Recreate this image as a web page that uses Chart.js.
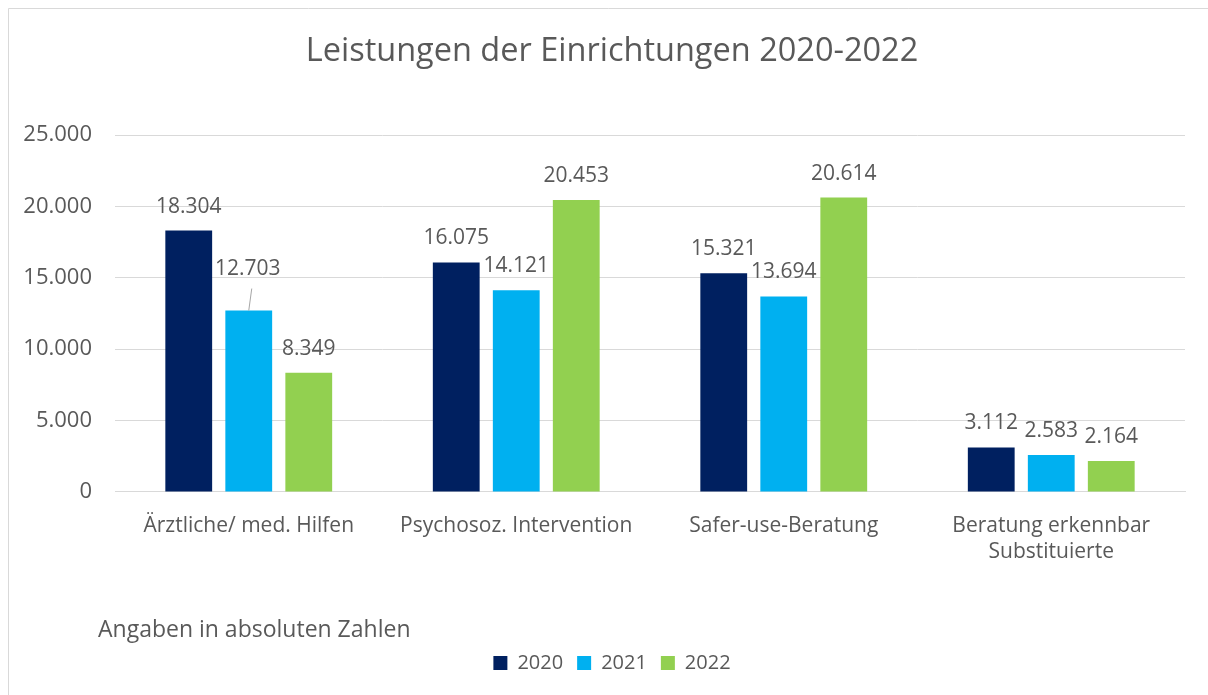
<!DOCTYPE html>
<html>
<head>
<meta charset="utf-8">
<script src="https://cdn.jsdelivr.net/npm/chart.js@4/dist/chart.umd.min.js"></script>
<style>
  html, body { margin: 0; padding: 0; background: #fff; }
  #wrap { width: 1208px; height: 695px; position: relative; }
</style>
</head>
<body>
<div id="wrap"><canvas id="myChart"></canvas></div>
<script>
const categories = [
    'Ärztliche/ med. Hilfen',
    'Psychosoz. Intervention',
    'Safer-use-Beratung',
    ['Beratung erkennbar', 'Substituierte'],
];
const years = ['2020', '2021', '2022'];
const values2020 = [18304, 16075, 15321, 3112];
const values2021 = [12703, 14121, 13694, 2583];
const values2022 = [8349, 20453, 20614, 2164];
const yTicks = [0, 5000, 10000, 15000, 20000, 25000];
const note = 'Angaben in absoluten Zahlen';

const textColor = '#595959';
const fontFamily = '"Open Sans", Lato, sans-serif';

function fmt(v) {
    return v.toLocaleString('de-DE');
}

// frame lines like the office chart border, plus the note above the legend
const framePlugin = {
    id: 'frame',
    afterLayout(chart) {
        // let the y tick labels run into the left padding without clipping
        chart.scales.y.left = 0;
    },
    beforeDraw(chart) {
        const ctx = chart.ctx;
        ctx.save();
        ctx.fillStyle = '#fff';
        ctx.fillRect(0, 0, chart.width, chart.height);
        ctx.strokeStyle = '#d9d9d9';
        ctx.lineWidth = 1;
        ctx.beginPath();
        ctx.moveTo(8.5, chart.height);
        ctx.lineTo(8.5, 8.5);
        ctx.lineTo(chart.width, 8.5);
        ctx.stroke();
        ctx.restore();
    },
    afterDraw(chart) {
        const ctx = chart.ctx;
        const lg = chart.legend;
        ctx.save();
        ctx.font = '23px ' + fontFamily;
        ctx.fillStyle = textColor;
        ctx.textAlign = 'left';
        ctx.textBaseline = 'middle';
        ctx.fillText(note, chart.chartArea.left - 17, lg.top + lg.height / 2 - 31);
        ctx.restore();
    }
};

// value labels over the bars
const labelPlugin = {
    id: 'barLabels',
    afterDatasetsDraw(chart) {
        const ctx = chart.ctx;
        ctx.save();
        ctx.font = '21px ' + fontFamily;
        ctx.fillStyle = textColor;
        ctx.textAlign = 'center';
        ctx.textBaseline = 'middle';
        chart.data.datasets.forEach((ds, di) => {
            chart.getDatasetMeta(di).data.forEach((bar, i) => {
                let y = bar.y - 24;
                let x = bar.x;
                if (di === 1 && i === 0) {
                    // label pulled up with a leader line
                    x = bar.x - 1;
                    y = bar.y - 42;
                    ctx.strokeStyle = '#a6a6a6';
                    ctx.lineWidth = 1;
                    ctx.beginPath();
                    ctx.moveTo(bar.x + 3, y + 20);
                    ctx.lineTo(bar.x, bar.y);
                    ctx.stroke();
                }
                ctx.fillText(fmt(ds.data[i]), x, y);
            });
        });
        ctx.restore();
    }
};

const data = {
    labels: categories,
    datasets: [
        { label: years[0], data: values2020, backgroundColor: '#002060' },
        { label: years[1], data: values2021, backgroundColor: '#00b0f0' },
        { label: years[2], data: values2022, backgroundColor: '#92d050' },
    ]
};

const config = {
    type: 'bar',
    data: data,
    plugins: [framePlugin, labelPlugin],
    options: {
        responsive: true,
        maintainAspectRatio: false,
        animation: false,
        datasets: {
            bar: { categoryPercentage: 0.673, barPercentage: 0.78 }
        },
        layout: { padding: { top: 32, left: 39, right: 23, bottom: 12 } },
        plugins: {
            title: {
                display: true,
                text: 'Leistungen der Einrichtungen 2020-2022',
                color: textColor,
                font: { family: fontFamily, size: 32.5, weight: 'normal' },
                padding: { top: 0, bottom: 64 }
            },
            legend: {
                position: 'bottom',
                labels: {
                    color: textColor,
                    font: { family: fontFamily, size: 20 },
                    boxWidth: 14,
                    boxHeight: 14,
                    padding: 14
                }
            },
            tooltip: { enabled: false }
        },
        scales: {
            x: {
                grid: { display: false },
                border: { color: '#d9d9d9' },
                ticks: {
                    color: textColor,
                    font: { family: fontFamily, size: 21, lineHeight: 1.24 },
                    padding: 13,
                    maxRotation: 0
                },
                afterFit(axis) {
                    axis.height += 61;
                }
            },
            y: {
                min: 0,
                max: 25000,
                afterBuildTicks(axis) {
                    axis.ticks = yTicks.map(v => ({ value: v }));
                },
                afterFit(axis) {
                    axis.width = 76;
                },
                grid: { color: '#d9d9d9', drawTicks: false },
                border: { display: false },
                ticks: {
                    color: textColor,
                    font: { family: fontFamily, size: 22 },
                    padding: 23,
                    callback: v => fmt(v)
                }
            }
        }
    }
};

const myChart = new Chart(document.getElementById('myChart'), config);
</script>
</body>
</html>
